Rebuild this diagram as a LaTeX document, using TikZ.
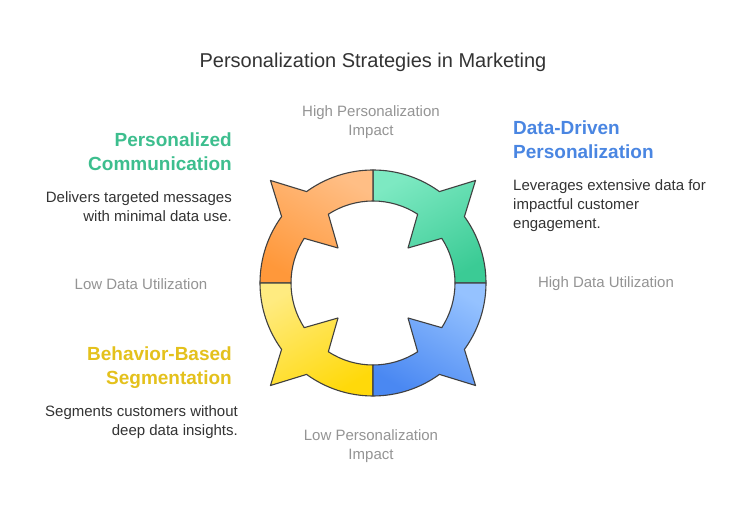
\documentclass[tikz,border=0pt]{standalone}
\usepackage{fontspec}
\setmainfont{Liberation Sans}
\begin{document}
\begin{tikzpicture}[x=1pt,y=1pt,
  seg/.style={draw=black!75, line width=1.1pt, line join=round},
  head/.style={inner sep=0pt, font=\fontsize{19}{24}\selectfont\bfseries},
  body/.style={inner sep=0pt, font=\fontsize{15}{19}\selectfont, text=black!80},
  axis/.style={inner sep=0pt, font=\fontsize{15}{18.5}\selectfont, text=black!42, align=center}]
\definecolor{hgreen}{HTML}{3DBE8E}
\definecolor{hblue}{HTML}{4A86E2}
\definecolor{hyellow}{HTML}{E4C11C}
\definecolor{ol}{HTML}{FFBE85}\definecolor{od}{HTML}{FF983A}
\definecolor{gl}{HTML}{7DE9C2}\definecolor{gd}{HTML}{3BCB95}
\definecolor{bl}{HTML}{95C2FF}\definecolor{bd}{HTML}{4A88F2}
\definecolor{yl}{HTML}{FFEB80}\definecolor{yd}{HTML}{FFD90A}
\useasboundingbox (0,0) rectangle (741,518);
\fill[white] (0,0) rectangle (741,518);
\newcommand{\quadseg}[4]{%
  \path[seg, top color=#2, bottom color=#3, shading angle=#4]
    (#1:82pt) -- (#1:113pt)
    arc[start angle=#1, end angle=#1+36, radius=113pt]
    -- (#1+45:145pt) -- (#1+54:113pt)
    arc[start angle=#1+54, end angle=#1+90, radius=113pt]
    -- (#1+90:82pt)
    arc[start angle=#1+90, end angle=#1+57, radius=82pt]
    -- (#1+45:49.5pt) -- (#1+33:82pt)
    arc[start angle=#1+33, end angle=#1, radius=82pt] -- cycle;}
\begin{scope}[shift={(373,235)}]
  \quadseg{0}{gl}{gd}{30}
  \quadseg{90}{ol}{od}{-30}
  \quadseg{180}{yl}{yd}{30}
  \quadseg{270}{bl}{bd}{-30}
\end{scope}
\node[inner sep=0pt, font=\fontsize{20}{24}\selectfont, text=black!80] (title) at (373,456) {Personalization Strategies in Marketing};
\node[axis] (hpi) at (371,396) {High Personalization\\Impact};
\node[axis] (lpi) at (371,72) {Low Personalization\\Impact};
\node[axis] (ldu) at (141,234) {Low Data Utilization};
\node[axis] (hdu) at (606,234) {High Data Utilization};
\node[head, text=hgreen, anchor=east, align=right] (pc) at (232,366) {Personalized\\Communication};
\node[body, anchor=east, align=right] (pcd) at (232,311.5) {Delivers targeted messages\\with minimal data use.};
\node[head, text=hblue, anchor=west, align=left] (ddp) at (513,378) {Data-Driven\\Personalization};
\node[body, anchor=west, align=left] (ddpd) at (513,312) {Leverages extensive data for\\impactful customer\\engagement.};
\node[head, text=hyellow, anchor=east, align=right] (bbs) at (232,150) {Behavior-Based\\Segmentation};
\node[body, anchor=east, align=right] (bbsd) at (238,96) {Segments customers without\\deep data insights.};
\end{tikzpicture}
\end{document}
